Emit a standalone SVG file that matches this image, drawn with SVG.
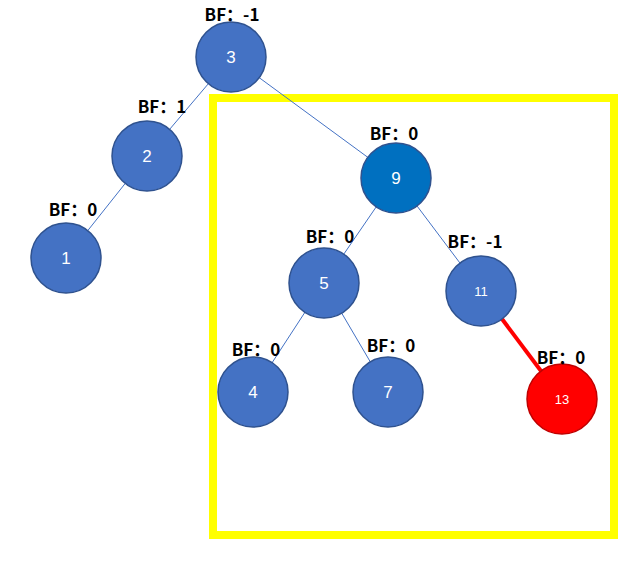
<svg xmlns="http://www.w3.org/2000/svg" width="627" height="568" viewBox="0 0 627 568">
<style>
.n{fill:#4472C4;stroke:#2F528F;stroke-width:1.5}
.t{fill:#fff;font-family:"Liberation Sans",sans-serif;font-size:17px;text-anchor:middle;dominant-baseline:central}
.s{font-size:13px}
.b{font-family:"Noto Sans CJK SC","Liberation Sans",sans-serif;font-weight:bold;font-size:17px;fill:#000;text-anchor:middle}
.e{stroke:#4472C4;stroke-width:1}
</style>
<rect width="627" height="568" fill="#fff"/>
<rect x="213" y="98" width="401" height="437" fill="none" stroke="#FFFF00" stroke-width="8"/>
<g id="connectors">
<line class="e" x1="231" y1="57" x2="396" y2="178"/>
<line class="e" x1="231" y1="57" x2="147" y2="156"/>
<line class="e" x1="147" y1="156" x2="66" y2="258"/>
<line class="e" x1="396" y1="178" x2="324" y2="283"/>
<line class="e" x1="396" y1="178" x2="481" y2="291"/>
<line class="e" x1="324" y1="283" x2="253" y2="392"/>
<line class="e" x1="324" y1="283" x2="388" y2="392"/>
<line x1="481" y1="291" x2="562" y2="399" stroke="#FF0000" stroke-width="4"/>
</g>
<g id="n3"><circle class="n" cx="231" cy="57" r="35"/><text class="t" x="231" y="57">3</text><text class="b" x="232" y="21">BF：-1</text></g>
<g id="n2"><circle class="n" cx="147" cy="156" r="35"/><text class="t" x="147" y="156">2</text><text class="b" x="162" y="113">BF：1</text></g>
<g id="n1"><circle class="n" cx="66" cy="258" r="35"/><text class="t" x="66" y="258">1</text><text class="b" x="73" y="216">BF：0</text></g>
<g id="n9"><circle cx="396" cy="178" r="35" fill="#0070C0" stroke="#2F528F" stroke-width="1.5"/><text class="t" x="396" y="178">9</text><text class="b" x="394" y="140">BF：0</text></g>
<g id="n5"><circle class="n" cx="324" cy="283" r="35"/><text class="t" x="324" y="283">5</text><text class="b" x="330" y="243">BF：0</text></g>
<g id="n11"><circle class="n" cx="481" cy="291" r="35"/><text class="t s" x="481" y="291">11</text><text class="b" x="475" y="248">BF：-1</text></g>
<g id="n4"><circle class="n" cx="253" cy="392" r="35"/><text class="t" x="253" y="392">4</text><text class="b" x="256" y="356">BF：0</text></g>
<g id="n7"><circle class="n" cx="388" cy="392" r="35"/><text class="t" x="388" y="392">7</text><text class="b" x="391" y="352">BF：0</text></g>
<g id="n13"><circle cx="562" cy="399" r="35" fill="#FF0000" stroke="#C00000" stroke-width="1.5"/><text class="t s" x="562" y="399">13</text><text class="b" x="561" y="364">BF：0</text></g>
</svg>
